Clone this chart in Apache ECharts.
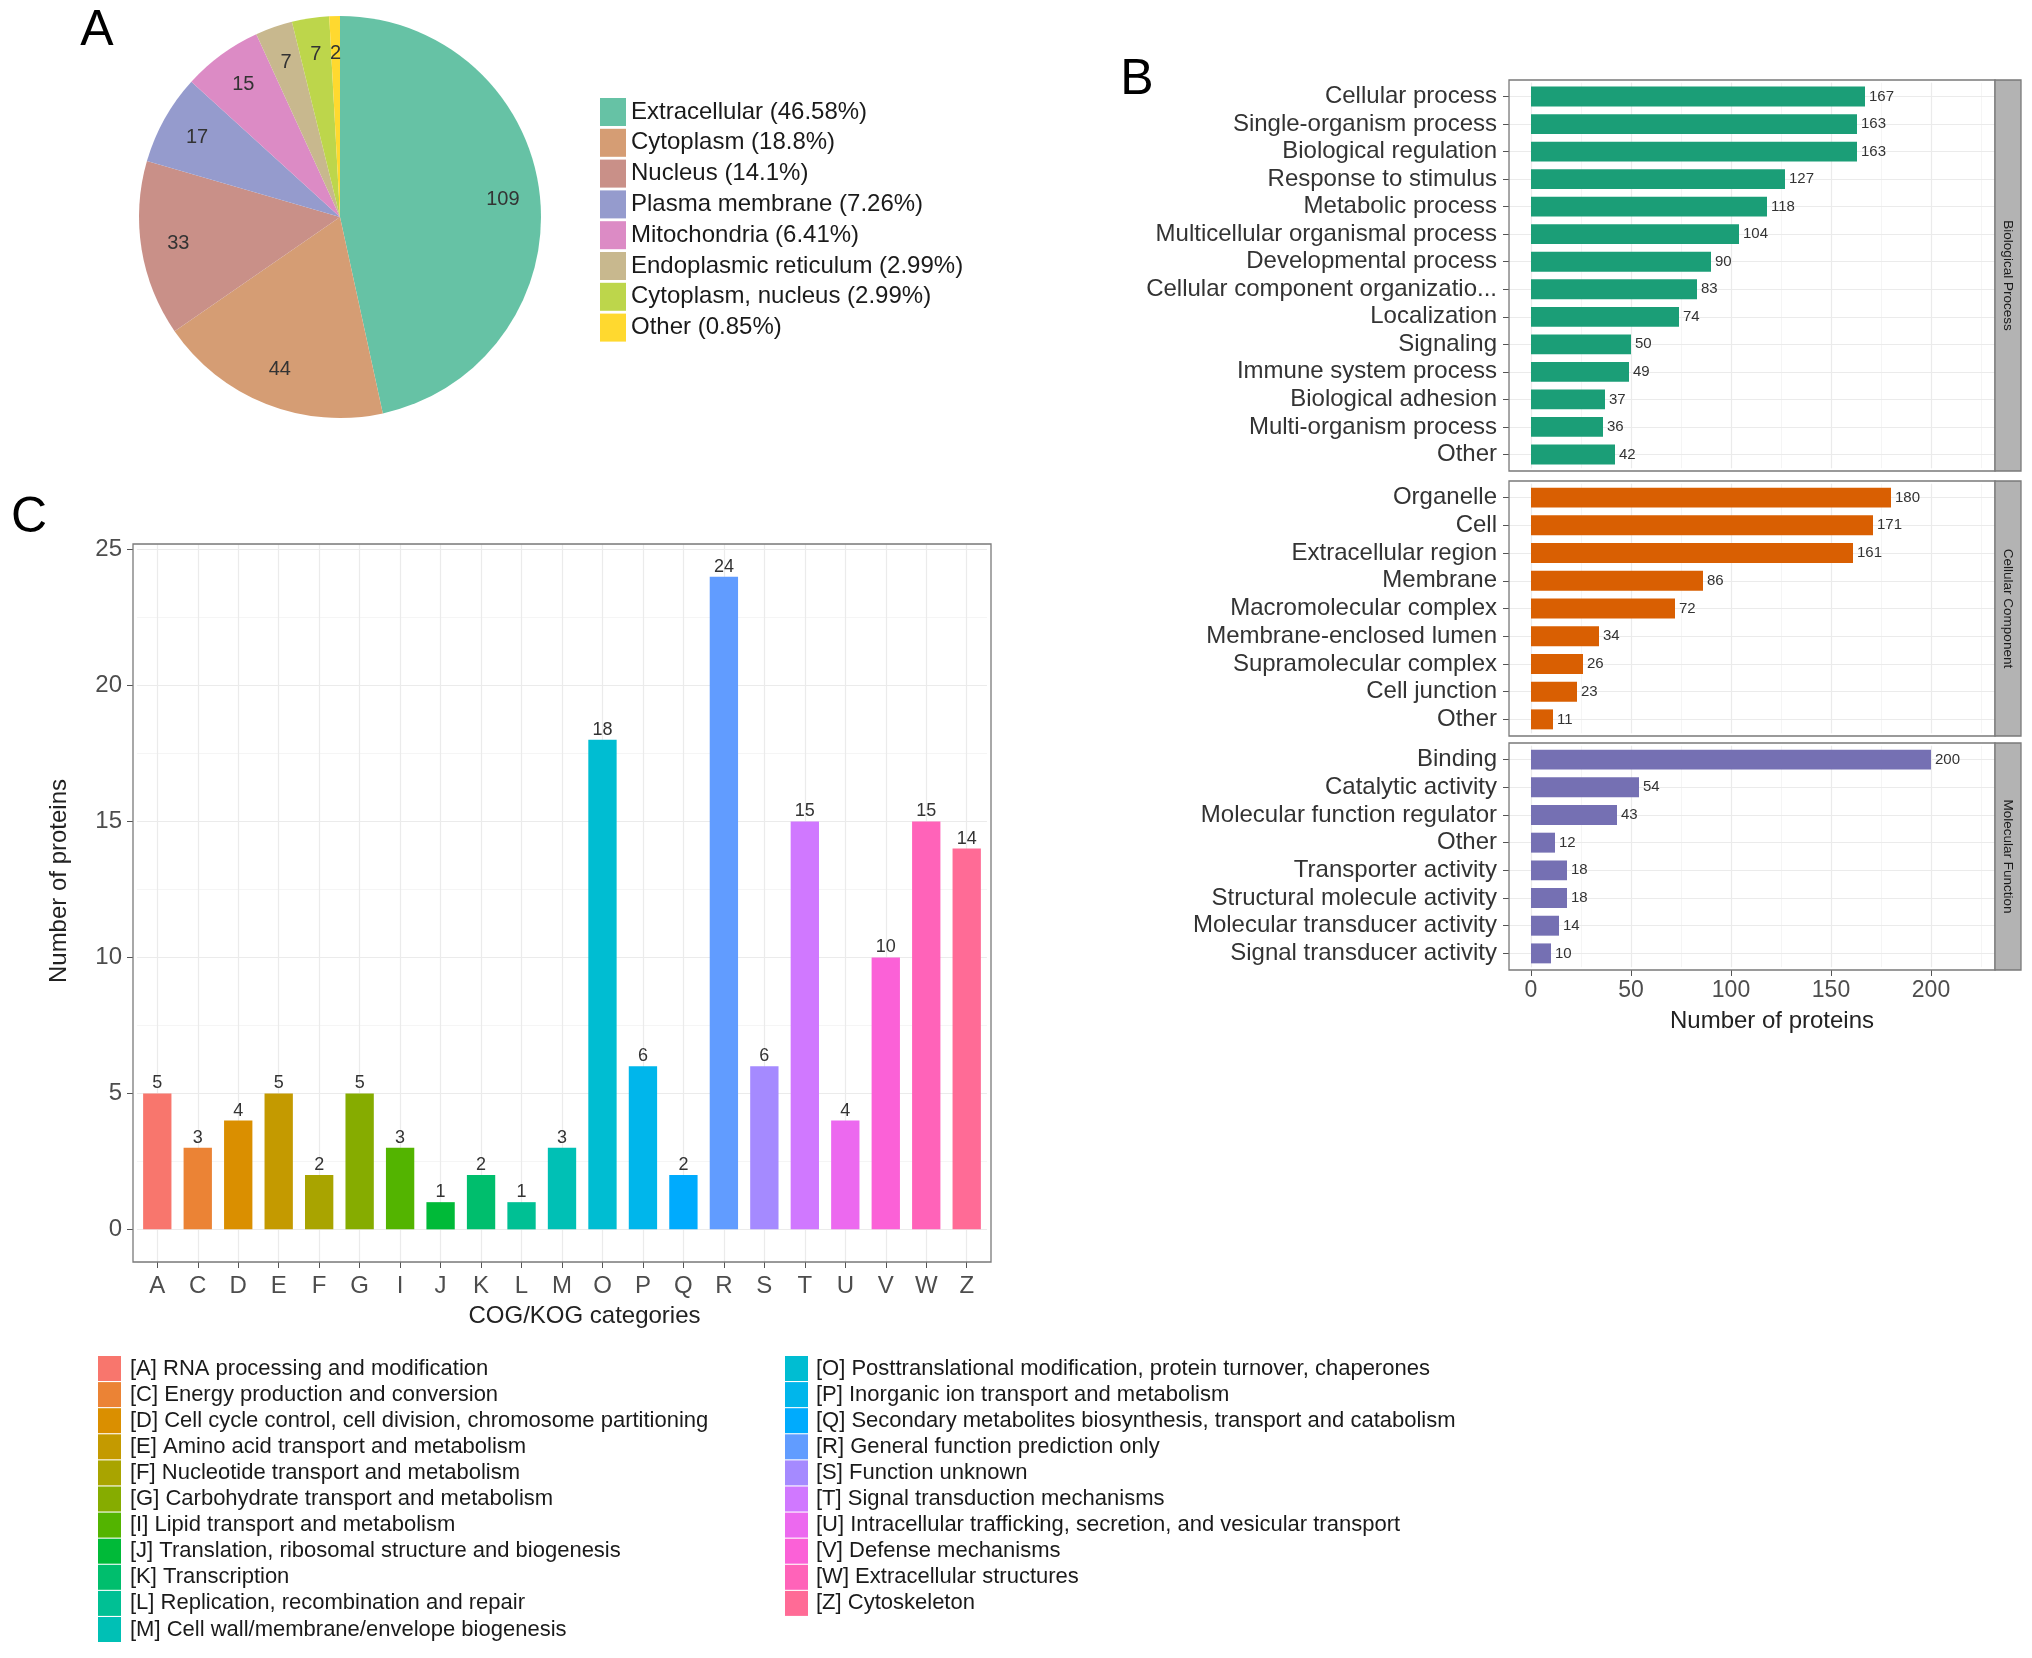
<!DOCTYPE html>
<html><head><meta charset="utf-8">
<script src="https://cdn.jsdelivr.net/npm/echarts@6/dist/echarts.min.js"></script>
<style>html,body{margin:0;padding:0;background:#fff}#chart{width:2032px;height:1658px}</style>
</head><body><div id="chart"></div>
<script>
// ---------- Panel A: subcellular localization ----------
const locNames = ['Extracellular', 'Cytoplasm', 'Nucleus', 'Plasma membrane', 'Mitochondria', 'Endoplasmic reticulum', 'Cytoplasm, nucleus', 'Other'];
const locCounts = [109, 44, 33, 17, 15, 7, 7, 2];

// ---------- Panel B: GO terms ----------
const bpTerms = ['Cellular process', 'Single-organism process', 'Biological regulation', 'Response to stimulus', 'Metabolic process', 'Multicellular organismal process', 'Developmental process', 'Cellular component organizatio...', 'Localization', 'Signaling', 'Immune system process', 'Biological adhesion', 'Multi-organism process', 'Other'];
const bpCounts = [167, 163, 163, 127, 118, 104, 90, 83, 74, 50, 49, 37, 36, 42];
const ccTerms = ['Organelle', 'Cell', 'Extracellular region', 'Membrane', 'Macromolecular complex', 'Membrane-enclosed lumen', 'Supramolecular complex', 'Cell junction', 'Other'];
const ccCounts = [180, 171, 161, 86, 72, 34, 26, 23, 11];
const mfTerms = ['Binding', 'Catalytic activity', 'Molecular function regulator', 'Other', 'Transporter activity', 'Structural molecule activity', 'Molecular transducer activity', 'Signal transducer activity'];
const mfCounts = [200, 54, 43, 12, 18, 18, 14, 10];
const goFacets = ['Biological Process', 'Cellular Component', 'Molecular Function'];
const bTickValues = [0, 50, 100, 150, 200];

// ---------- Panel C: COG/KOG ----------
const cogCodes = ['A', 'C', 'D', 'E', 'F', 'G', 'I', 'J', 'K', 'L', 'M', 'O', 'P', 'Q', 'R', 'S', 'T', 'U', 'V', 'W', 'Z'];
const cogCounts = [5, 3, 4, 5, 2, 5, 3, 1, 2, 1, 3, 18, 6, 2, 24, 6, 15, 4, 10, 15, 14];
const cogDescriptions = [
  '[A] RNA processing and modification',
  '[C] Energy production and conversion',
  '[D] Cell cycle control, cell division, chromosome partitioning',
  '[E] Amino acid transport and metabolism',
  '[F] Nucleotide transport and metabolism',
  '[G] Carbohydrate transport and metabolism',
  '[I] Lipid transport and metabolism',
  '[J] Translation, ribosomal structure and biogenesis',
  '[K] Transcription',
  '[L] Replication, recombination and repair',
  '[M] Cell wall/membrane/envelope biogenesis',
  '[O] Posttranslational modification, protein turnover, chaperones',
  '[P] Inorganic ion transport and metabolism',
  '[Q] Secondary metabolites biosynthesis, transport and catabolism',
  '[R] General function prediction only',
  '[S] Function unknown',
  '[T] Signal transduction mechanisms',
  '[U] Intracellular trafficking, secretion, and vesicular transport',
  '[V] Defense mechanisms',
  '[W] Extracellular structures',
  '[Z] Cytoskeleton'
];
const cYTickValues = [0, 5, 10, 15, 20, 25];

// ---------- styles ----------
const FONT = 'Liberation Sans, Arial, Helvetica, sans-serif';
const locColors = ['#66C2A5', '#D59D74', '#C99088', '#959BCD', '#DC8BC5', '#C8B88E', '#BDD64B', '#FFD92F'];
const goColors = ['#1B9E77', '#D95F02', '#7570B3'];

// ggplot2 default hue palette (HCL, c=100, l=65)
function hcl(h, c, l) {
  const Xn = 95.047, Yn = 100, Zn = 108.883;
  const den = Xn + 15 * Yn + 3 * Zn;
  const un = 4 * Xn / den, vn = 9 * Yn / den;
  const hr = h * Math.PI / 180;
  const u = c * Math.cos(hr), v = c * Math.sin(hr);
  const Y = l > 8 ? Yn * Math.pow((l + 16) / 116, 3) : Yn * l / 903.3;
  const up = u / (13 * l) + un, vp = v / (13 * l) + vn;
  const X = Y * 9 * up / (4 * vp);
  const Z = Y * (12 - 3 * up - 20 * vp) / (4 * vp);
  const x = X / 100, y = Y / 100, z = Z / 100;
  const r = 3.2404542 * x - 1.5371385 * y - 0.4985314 * z;
  const g = -0.9692660 * x + 1.8760108 * y + 0.0415560 * z;
  const b = 0.0556434 * x - 0.2040259 * y + 1.0572252 * z;
  const gam = t => { t = t <= 0.0031308 ? 12.92 * t : 1.055 * Math.pow(t, 1 / 2.4) - 0.055; return Math.round(Math.max(0, Math.min(1, t)) * 255); };
  return 'rgb(' + gam(r) + ',' + gam(g) + ',' + gam(b) + ')';
}
const cogColors = cogCodes.map((_, i) => hcl(15 + i * 360 / cogCodes.length, 100, 65));

// ---------- layout ----------
const pieCenter = [340, 217], pieR = 201;
const bLeft = 1509, bWidth = 486;
const bBoxTops = [80, 481, 743], bBoxHeights = [391, 255, 227];
const stripW = 26;
const cBox = { left: 133, top: 544, width: 858, height: 718 };
const BORDER = '#7a7a7a';
const EXPAND = 0.6; // ggplot discrete-axis expansion (in category units)

const locTotal = locCounts.reduce((a, b) => a + b, 0);
const locPct = {};
locNames.forEach((n, i) => { locPct[n] = Number((locCounts[i] / locTotal * 100).toFixed(2)); });

const grids = [], xAxes = [], yAxes = [], series = [], graphics = [];
const goTerms = [bpTerms, ccTerms, mfTerms];
const goCounts = [bpCounts, ccCounts, mfCounts];

function boxRect(x, y, w, h) {
  return { type: 'rect', shape: { x: x, y: y, width: w, height: h }, silent: true, z: 50,
    style: { fill: 'none', stroke: BORDER, lineWidth: 1.3 } };
}

// Panel B grids / axes
const bInset = [];
for (let i = 0; i < 3; i++) {
  const n = goTerms[i].length;
  const pitch = bBoxHeights[i] / (n - 1 + 2 * EXPAND);
  const inset = (EXPAND - 0.5) * pitch;
  bInset.push(inset);
  grids.push({ left: bLeft, top: bBoxTops[i] + inset, width: bWidth, height: bBoxHeights[i] - 2 * inset });
  graphics.push(boxRect(bLeft, bBoxTops[i], bWidth, bBoxHeights[i]));
}
for (let i = 0; i < 3; i++) {
  const last = i === 2;
  xAxes.push({
    gridIndex: i, type: 'value', min: -11, max: 232, minInterval: 50, maxInterval: 50, z: 1,
    offset: bInset[i],
    axisLine: { show: false, onZero: false },
    axisTick: { show: last, length: 6, lineStyle: { color: '#555' }, customValues: bTickValues },
    axisLabel: { show: last, customValues: bTickValues, formatter: v => bTickValues.indexOf(v) >= 0 ? String(v) : '', fontSize: 23, color: '#4d4d4d', margin: 9, fontFamily: FONT },
    splitLine: { show: true, lineStyle: { color: '#EBEBEB', width: 1.2 } },
    name: last ? 'Number of proteins' : '', nameLocation: 'middle', nameGap: 39,
    nameTextStyle: { fontSize: 24, color: '#222', fontFamily: FONT, padding: [0, 0, 0, 40] }
  });
}
for (let i = 0; i < 3; i++) {
  xAxes.push({
    gridIndex: i, type: 'value', min: -11, max: 232, minInterval: 25, maxInterval: 25, position: 'top', z: 0,
    axisLine: { show: false, onZero: false }, axisTick: { show: false }, axisLabel: { show: false },
    splitLine: { show: true, lineStyle: { color: '#F5F5F5', width: 1 } }
  });
}
for (let i = 0; i < 3; i++) {
  yAxes.push({
    gridIndex: i, type: 'category', data: goTerms[i], inverse: true,
    axisLine: { show: false, onZero: false },
    axisTick: { show: true, alignWithLabel: true, length: 6, lineStyle: { color: '#555' } },
    axisLabel: { interval: 0, fontSize: 24, color: '#333', margin: 12, fontFamily: FONT },
    splitLine: { show: false }
  });
  series.push({
    type: 'line', xAxisIndex: i, yAxisIndex: i, data: [], silent: true,
    markLine: { silent: true, z: 1, symbol: ['none', 'none'], label: { show: false }, animation: false,
      lineStyle: { color: '#EBEBEB', type: 'solid', width: 1.2 },
      data: goTerms[i].map(t => ({ yAxis: t })) }
  });
  series.push({
    type: 'bar', xAxisIndex: i, yAxisIndex: i, data: goCounts[i], barWidth: '72%', z: 2,
    itemStyle: { color: goColors[i] },
    label: { show: true, position: 'right', distance: 4, fontSize: 15, color: '#333', fontFamily: FONT }
  });
  graphics.push({ type: 'rect', shape: { x: bLeft + bWidth, y: bBoxTops[i], width: stripW, height: bBoxHeights[i] },
    style: { fill: '#B3B3B3', stroke: BORDER, lineWidth: 1.3 }, z: 60 });
  graphics.push({ type: 'text', x: bLeft + bWidth + stripW / 2, y: bBoxTops[i] + bBoxHeights[i] / 2, rotation: -Math.PI / 2, z: 61,
    style: { text: goFacets[i], fontSize: 13.5, fill: '#1a1a1a', fontFamily: FONT, align: 'center', verticalAlign: 'middle', textAlign: 'center', textVerticalAlign: 'middle' } });
}

// Panel C
const cPitch = cBox.width / (cogCodes.length - 1 + 2 * EXPAND);
const cInset = (EXPAND - 0.5) * cPitch;
const cG = grids.length;
grids.push({ left: cBox.left + cInset, top: cBox.top, width: cBox.width - 2 * cInset, height: cBox.height });
graphics.push(boxRect(cBox.left, cBox.top, cBox.width, cBox.height));
const cX = xAxes.length;
xAxes.push({
  gridIndex: cG, type: 'category', data: cogCodes,
  axisLine: { show: false, onZero: false },
  axisTick: { show: true, alignWithLabel: true, length: 6, lineStyle: { color: '#555' } },
  axisLabel: { interval: 0, fontSize: 24, color: '#4d4d4d', margin: 12, fontFamily: FONT },
  splitLine: { show: false },
  name: 'COG/KOG categories', nameLocation: 'middle', nameGap: 42,
  nameTextStyle: { fontSize: 24, color: '#222', fontFamily: FONT, padding: [0, 0, 0, 45] }
});
const cY = yAxes.length;
yAxes.push({
  gridIndex: cG, type: 'value', min: -1.2, max: 25.2, minInterval: 5, maxInterval: 5, z: 1,
  offset: cInset,
  axisLine: { show: false, onZero: false },
  axisTick: { show: true, length: 6, lineStyle: { color: '#555' }, customValues: cYTickValues },
  axisLabel: { customValues: cYTickValues, formatter: v => cYTickValues.indexOf(v) >= 0 ? String(v) : '', fontSize: 24, color: '#4d4d4d', margin: 11, fontFamily: FONT },
  splitLine: { show: true, lineStyle: { color: '#EBEBEB', width: 1.2 } },
  name: 'Number of proteins', nameLocation: 'middle', nameRotate: 90, nameGap: 62,
  nameTextStyle: { fontSize: 24, color: '#222', fontFamily: FONT, padding: [0, 0, 0, 44] }
});
yAxes.push({
  gridIndex: cG, type: 'value', min: -1.2, max: 25.2, minInterval: 2.5, maxInterval: 2.5, z: 0,
  axisLine: { show: false, onZero: false }, axisTick: { show: false }, axisLabel: { show: false },
  splitLine: { show: true, lineStyle: { color: '#F5F5F5', width: 1 } }
});
series.push({
  type: 'line', xAxisIndex: cX, yAxisIndex: cY, data: [], silent: true,
  markLine: { silent: true, z: 1, symbol: ['none', 'none'], label: { show: false }, animation: false,
    lineStyle: { color: '#EBEBEB', type: 'solid', width: 1.2 },
    data: cogCodes.map(c => ({ xAxis: c })) }
});
cogCodes.forEach((code, i) => {
  series.push({
    type: 'bar', name: cogDescriptions[i], xAxisIndex: cX, yAxisIndex: cY, stack: 'cog', barWidth: '70%', z: 2,
    data: cogCounts.map((v, j) => j === i ? v : null),
    itemStyle: { color: cogColors[i] },
    label: { show: true, position: 'top', distance: 1, fontSize: 18, color: '#333', fontFamily: FONT }
  });
});

// Panel A pie
series.push({
  type: 'pie', name: 'loc', center: pieCenter, radius: [0, pieR], startAngle: 90, clockwise: true,
  data: locNames.map((n, i) => ({ name: n, value: locCounts[i], itemStyle: { color: locColors[i] } })),
  label: { show: false }, labelLine: { show: false }, emphasis: { disabled: true }
});
series.push({
  type: 'pie', name: 'locLabels', center: pieCenter, radius: [pieR * 0.6, pieR], startAngle: 90, clockwise: true, silent: true,
  data: locNames.map((n, i) => ({ name: n, value: locCounts[i], itemStyle: { color: 'rgba(0,0,0,0)' } })),
  label: { show: true, position: 'inside', formatter: '{c}', fontSize: 20, color: '#333', fontFamily: FONT },
  labelLine: { show: false }, emphasis: { disabled: true }
});

// Panel letters
[['A', 97, 31], ['B', 1137, 80], ['C', 29, 518]].forEach(p => {
  graphics.push({ type: 'text', x: p[1], y: p[2], z: 70,
    style: { text: p[0], fontSize: 50, fill: '#000', fontFamily: FONT, align: 'center', verticalAlign: 'middle', textAlign: 'center', textVerticalAlign: 'middle' } });
});

const legendBase = { orient: 'vertical', icon: 'rect', padding: 0, selectedMode: false, itemStyle: { borderWidth: 0 } };
const option = {
  animation: false,
  backgroundColor: '#fff',
  textStyle: { fontFamily: FONT },
  grid: grids,
  xAxis: xAxes,
  yAxis: yAxes,
  legend: [
    Object.assign({}, legendBase, { data: locNames, left: 600, top: 98, itemWidth: 26, itemHeight: 28, itemGap: 2.8,
      formatter: n => n + ' (' + locPct[n] + '%)', textStyle: { fontSize: 24, color: '#1a1a1a', fontFamily: FONT } }),
    Object.assign({}, legendBase, { data: cogDescriptions.slice(0, 11), left: 98, top: 1356, itemWidth: 23, itemHeight: 25, itemGap: 1.1,
      textStyle: { fontSize: 22, color: '#1a1a1a', fontFamily: FONT, padding: [0, 0, 0, 4] } }),
    Object.assign({}, legendBase, { data: cogDescriptions.slice(11), left: 785, top: 1356, itemWidth: 23, itemHeight: 25, itemGap: 1.1,
      textStyle: { fontSize: 22, color: '#1a1a1a', fontFamily: FONT, padding: [0, 0, 0, 3] } })
  ],
  graphic: graphics,
  series: series
};
const chart = echarts.init(document.getElementById('chart'), null, { renderer: 'canvas' });
chart.setOption(option);
</script>
</body></html>
